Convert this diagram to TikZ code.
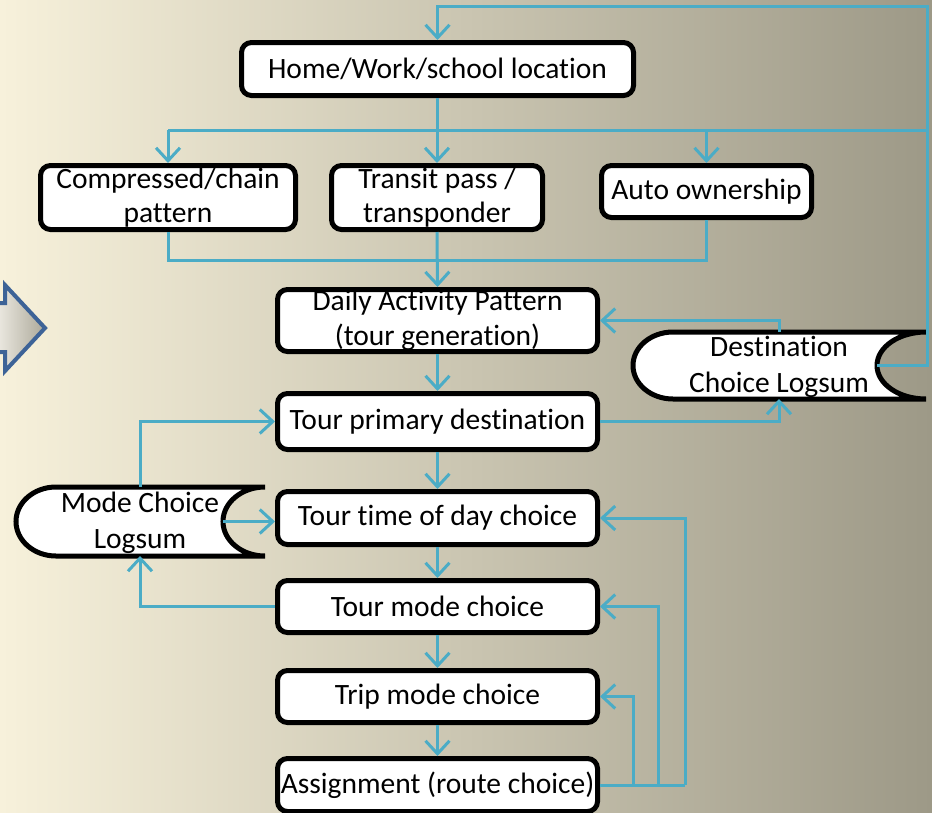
\documentclass[tikz,border=0pt]{standalone}
\usepackage{fontspec}
\setmainfont{Carlito}[Ligatures=NoCommon]
\usetikzlibrary{arrows.meta}

\definecolor{linkblue}{HTML}{4BACC6}
\definecolor{bgleft}{HTML}{F7F1DB}
\definecolor{bgmid}{HTML}{D6CEB6}
\definecolor{bgright}{HTML}{9D9987}
\definecolor{arrowedge}{HTML}{3D6397}

\tikzset{
  stepbox/.style={draw=black, line width=5pt, rounded corners=10pt, fill=white,
    align=center, inner sep=0pt, font=\fontsize{29.5}{34.5}\selectfont},
  logsum/.style={draw=black, line width=5pt, fill=white},
  logtext/.style={align=center, inner sep=0pt, font=\fontsize{29.5}{35.5}\selectfont},
  link/.style={draw=linkblue, line width=3pt},
  arr/.style={link, -{Straight Barb[length=13pt,width=24pt]}},
}

\begin{document}
\begin{tikzpicture}[x=1pt,y=-1pt]
  % background
  \shade[left color=bgleft, middle color=bgmid, right color=bgright]
    (0,0) rectangle (932,812);
  \useasboundingbox (0,0) rectangle (932,812);

  % block arrow at the left edge
  \shade[left color=white!70!bgmid, right color=bgright!85!white, draw=arrowedge, line width=4pt, line join=miter]
    (-8,303) -- (5,303) -- (5,285) -- (45,328) -- (5,371) -- (5,352) -- (-8,352) -- cycle;

  % process boxes
  \node[stepbox, minimum width=392pt, minimum height=53pt] (home) at (437.5,69) {Home/Work/school location};
  \node[stepbox, minimum width=255pt, minimum height=64pt] (comp) at (168,197.5) {Compressed/chain\\pattern};
  \node[stepbox, minimum width=211pt, minimum height=64pt] (transit) at (437,197.5) {Transit pass /\\transponder};
  \node[stepbox, minimum width=210pt, minimum height=52pt] (auto) at (706.5,191.5) {Auto ownership};
  \node[stepbox, minimum width=320pt, minimum height=62pt] (dap) at (437.5,320.5) {Daily Activity Pattern\\(tour generation)};
  \node[stepbox, minimum width=320pt, minimum height=56pt] (tpd) at (437.5,421.5) {Tour primary destination};
  \node[stepbox, minimum width=320pt, minimum height=53pt] (ttod) at (437.5,518) {Tour time of day choice};
  \node[stepbox, minimum width=320pt, minimum height=52pt] (tmode) at (437.5,606.5) {Tour mode choice};
  \node[stepbox, minimum width=320pt, minimum height=52pt] (trip) at (437.5,696.5) {Trip mode choice};
  \node[stepbox, minimum width=320pt, minimum height=53pt] (assign) at (437.5,785) {Assignment (route choice)};

  % destination choice logsum
  \path[logsum] (926,332) -- (673,332) arc[start angle=90, end angle=270, x radius=40pt, y radius=33.5pt]
    -- (926,399) arc[start angle=270, end angle=90, x radius=49pt, y radius=33.5pt];
  \node[logtext] (dcl) at (779,367) {Destination\\Choice Logsum};
  \coordinate (dclN) at (779,332);
  \coordinate (dclS) at (779,399);
  \coordinate (dclE) at (877,365.5);

  % mode choice logsum
  \path[logsum] (265,487) -- (56,487) arc[start angle=90, end angle=270, x radius=40pt, y radius=34.5pt]
    -- (265,556) arc[start angle=270, end angle=90, x radius=42pt, y radius=34.5pt];
  \node[logtext] (mcl) at (140,523) {Mode Choice\\Logsum};
  \coordinate (mclN) at (140,487);
  \coordinate (mclS) at (140,556);
  \coordinate (mclE) at (223,521.5);

  % routing points
  \coordinate (loop) at (927,6);
  \coordinate (busL) at (168,130);
  \coordinate (busR) at (927,130);
  \coordinate (merge) at (437,260);
  \coordinate (fb1) at (633,785);
  \coordinate (fb2) at (658,785);
  \coordinate (fb3) at (685,785);

  % feedback from destination logsum to the top
  \draw[arr] (dclE) -- (dclE -| loop) -- (loop) -- (home.north |- loop) -- (home.north);

  % home location to the long-term choices
  \draw[link] (home.south) -- (home.south |- busL);
  \draw[link] (busL) -- (busR);
  \draw[arr] (busL) -- (comp.north);
  \draw[arr] (transit.north |- busL) -- (transit.north);
  \draw[arr] (auto.north |- busL) -- (auto.north);

  % long-term choices into the daily activity pattern
  \draw[link] (comp.south) |- (merge);
  \draw[link] (auto.south) |- (merge);
  \draw[arr] (transit.south) -- (dap.north);

  % main chain
  \draw[arr] (dap.south) -- (tpd.north);
  \draw[arr] (tpd.south) -- (ttod.north);
  \draw[arr] (ttod.south) -- (tmode.north);
  \draw[arr] (tmode.south) -- (trip.north);
  \draw[arr] (trip.south) -- (assign.north);

  % logsum links
  \draw[arr] (dclN) |- (dap.east);
  \draw[arr] (tpd.east) -| (dclS);
  \draw[arr] (mclN) |- (tpd.west);
  \draw[arr] (mclE) -- (mclE -| ttod.west);
  \draw[arr] (tmode.west) -| (mclS);

  % assignment feedback
  \draw[link] (assign.east) -- (fb3);
  \draw[arr] (fb1) |- (trip.east);
  \draw[arr] (fb2) |- (tmode.east);
  \draw[arr] (fb3) |- (ttod.east);
\end{tikzpicture}
\end{document}
